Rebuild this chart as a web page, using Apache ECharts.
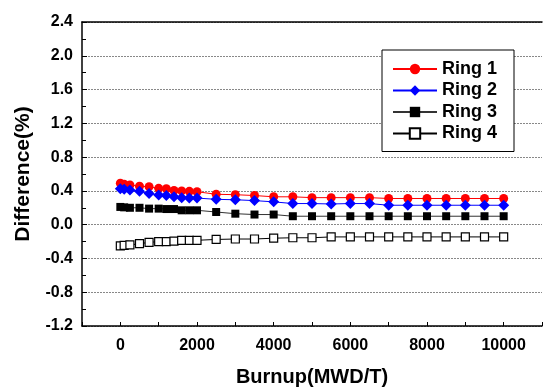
<!DOCTYPE html>
<html>
<head>
<meta charset="utf-8">
<script src="https://cdn.jsdelivr.net/npm/echarts@6/dist/echarts.min.js"></script>
<style>
  html, body { margin: 0; padding: 0; background: #fff; }
  #chart { width: 545px; height: 392px; }
</style>
</head>
<body>
<div id="chart"></div>
<script>
// burnup steps (MWD/T)
const burnup = [0, 100, 250, 500, 750, 1000, 1200, 1400, 1600, 1800, 2000, 2500, 3000, 3500,
  4000, 4500, 5000, 5500, 6000, 6500, 7000, 7500, 8000, 8500, 9000, 9500, 10000];

// difference (%) per ring
const ring1 = [0.49, 0.48, 0.47, 0.455, 0.45, 0.43, 0.425, 0.405, 0.40, 0.395, 0.39, 0.36, 0.355, 0.345,
  0.33, 0.33, 0.32, 0.32, 0.32, 0.32, 0.31, 0.31, 0.31, 0.31, 0.31, 0.31, 0.31];
const ring2 = [0.425, 0.42, 0.41, 0.395, 0.37, 0.35, 0.345, 0.33, 0.32, 0.315, 0.315, 0.30, 0.295, 0.285,
  0.27, 0.25, 0.25, 0.245, 0.25, 0.25, 0.23, 0.23, 0.23, 0.23, 0.23, 0.23, 0.23];
const ring3 = [0.21, 0.205, 0.20, 0.20, 0.19, 0.19, 0.185, 0.185, 0.17, 0.17, 0.17, 0.15, 0.13, 0.12,
  0.12, 0.10, 0.10, 0.10, 0.10, 0.10, 0.10, 0.10, 0.10, 0.10, 0.10, 0.10, 0.10];
const ring4 = [-0.25, -0.245, -0.24, -0.225, -0.21, -0.20, -0.20, -0.195, -0.185, -0.185, -0.185, -0.175, -0.17, -0.17,
  -0.16, -0.155, -0.155, -0.145, -0.145, -0.145, -0.145, -0.145, -0.145, -0.145, -0.145, -0.145, -0.145];

const FONT = "Arial, 'Liberation Sans', sans-serif";

function pairs(vals) {
  return burnup.map((x, i) => [x, vals[i]]);
}

function lineSeries(name, vals, color, lineColor, symbol, size, itemStyle) {
  return {
    name: name,
    type: "line",
    data: pairs(vals),
    symbol: symbol,
    symbolSize: size,
    showSymbol: true,
    animation: false,
    lineStyle: { color: lineColor, width: 1 },
    itemStyle: Object.assign({ color: color }, itemStyle || {}),
  };
}

const chart = echarts.init(document.getElementById("chart"), null, { renderer: "canvas" });

chart.setOption({
  backgroundColor: "#fff",
  animation: false,
  grid: { left: 82, right: 0, top: 22, bottom: 59 },
  legend: {
    orient: "vertical",
    left: 382,
    top: 50,
    padding: [10, 17, 9, 10],
    itemGap: 3.5,
    itemWidth: 44,
    itemHeight: 13,
    backgroundColor: "#fff",
    borderColor: "#000",
    borderWidth: 1,
    textStyle: { fontFamily: FONT, fontSize: 18, fontWeight: "bold", color: "#000", lineHeight: 18 },
    data: ["Ring 1", "Ring 2", "Ring 3", "Ring 4"],
  },
  xAxis: [
    {
      type: "value",
      position: "bottom",
      min: -1000,
      max: 11000,
      interval: 1000,
      name: "Burnup(MWD/T)",
      nameLocation: "middle",
      nameGap: 41,
      nameTextStyle: { fontFamily: FONT, fontSize: 20, fontWeight: "bold", color: "#000", verticalAlign: "top" },
      axisLine: { show: true, onZero: false, lineStyle: { color: "#000", width: 1.5 } },
      axisTick: { show: true, inside: true, length: 4, lineStyle: { color: "#000", width: 1 } },
      axisLabel: {
        fontFamily: FONT, fontSize: 16, fontWeight: "bold", color: "#000", margin: 12,
        formatter: (v) => (v >= 0 && v % 2000 === 0 ? String(v) : ""),
      },
      splitLine: { show: false },
    },
    {
      type: "value",
      position: "top",
      min: -1000,
      max: 11000,
      axisLine: { show: true, onZero: false, lineStyle: { color: "#000", width: 1.5 } },
      axisTick: { show: false },
      axisLabel: { show: false },
      splitLine: { show: false },
    },
  ],
  yAxis: {
    type: "value",
    min: -1.2,
    max: 2.4,
    interval: 0.4,
    name: "Difference(%)",
    nameLocation: "middle",
    nameGap: 48,
    nameTextStyle: { fontFamily: FONT, fontSize: 21, fontWeight: "bold", color: "#000" },
    axisLine: { show: true, onZero: false, lineStyle: { color: "#000", width: 1.5 } },
    axisTick: { show: true, inside: true, length: 5, lineStyle: { color: "#000" } },
    minorTick: { show: true, splitNumber: 2, length: 4, lineStyle: { color: "#000" } },
    axisLabel: {
      fontFamily: FONT, fontSize: 16, fontWeight: "bold", color: "#000", margin: 9,
      formatter: (v) => v.toFixed(1),
    },
    splitLine: { show: true, lineStyle: { color: "#888", type: [2, 1], width: 1 } },
  },
  series: [
    lineSeries("Ring 1", ring1, "#ff0000", "#ff0000", "circle", 9),
    lineSeries("Ring 2", ring2, "#0000ff", "#0000ff", "diamond", 11),
    lineSeries("Ring 3", ring3, "#000000", "#333333", "rect", 8),
    lineSeries("Ring 4", ring4, "#ffffff", "#000000", "rect", 8, { borderColor: "#000", borderWidth: 1.2 }),
  ],
});
</script>
</body>
</html>
